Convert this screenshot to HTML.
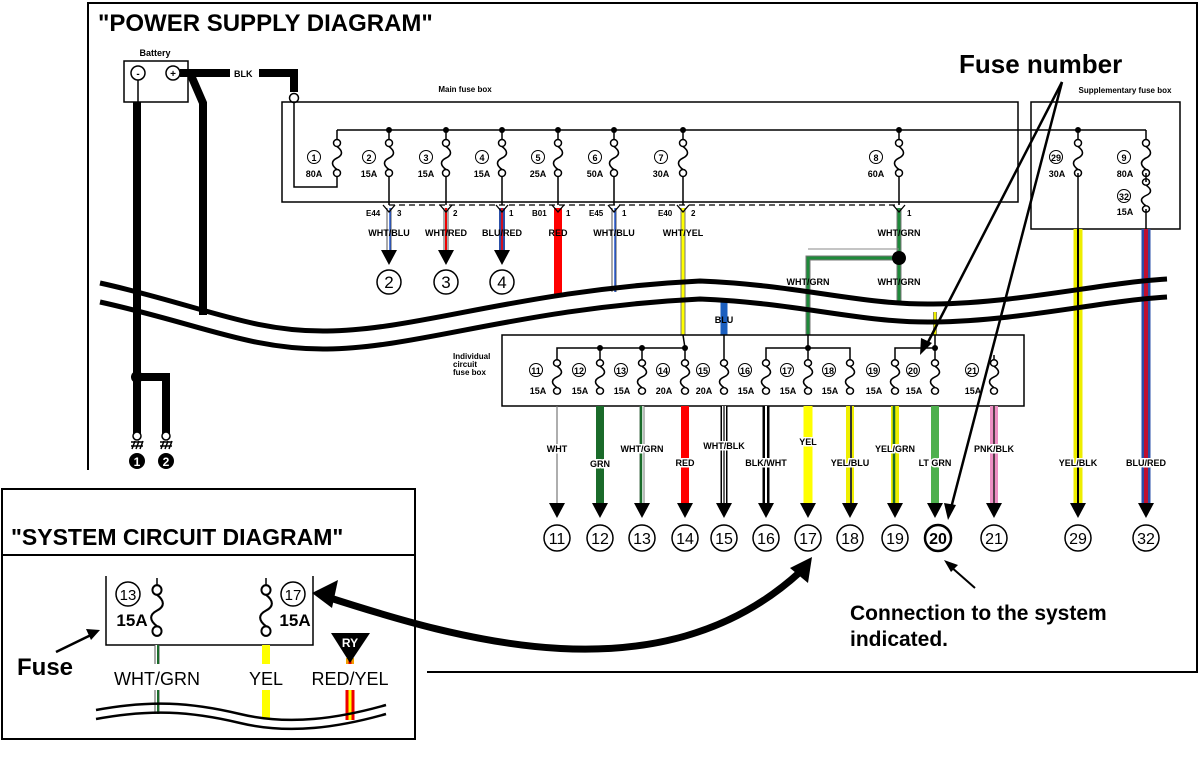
<!DOCTYPE html>
<html><head><meta charset="utf-8"><style>
html,body{margin:0;padding:0;background:#fff}
svg{display:block}
text{font-family:"Liberation Sans",Arial,sans-serif;font-weight:bold;fill:#000}
</style></head><body>
<svg width="1200" height="765" viewBox="0 0 1200 765" xmlns="http://www.w3.org/2000/svg">
<defs>
<g id="fz"><circle cx="0" cy="0" r="3.5" fill="#fff" stroke="#000" stroke-width="1.5"/><path d="M0,3.5 C6,8 6,12 0,15 C-6,18 -6,22 0,26.5" fill="none" stroke="#000" stroke-width="1.6"/><circle cx="0" cy="30" r="3.5" fill="#fff" stroke="#000" stroke-width="1.5"/></g>
</defs>
<!-- frame -->
<polyline points="88,470 88,3 1197,3 1197,672 427,672" fill="none" stroke="#000" stroke-width="2"/>
<text x="98" y="31" font-size="24">"POWER SUPPLY DIAGRAM"</text>

<!-- battery -->
<text x="155" y="56" font-size="9" text-anchor="middle">Battery</text>
<rect x="124" y="61" width="64" height="41" fill="#fff" stroke="#000" stroke-width="1.5"/>
<circle cx="138" cy="73" r="7" fill="#fff" stroke="#000" stroke-width="1.5"/><text x="138" y="77" font-size="10" text-anchor="middle">-</text>
<circle cx="173" cy="73" r="7" fill="#fff" stroke="#000" stroke-width="1.5"/><text x="173" y="77" font-size="10" text-anchor="middle">+</text>
<line x1="138" y1="80" x2="138" y2="102" stroke="#000" stroke-width="1.5"/>
<line x1="137" y1="102" x2="137" y2="438" stroke="#000" stroke-width="8"/>
<polyline points="137,377 166,377 166,438" fill="none" stroke="#000" stroke-width="8"/>
<circle cx="137" cy="377" r="6" fill="#000"/>
<g stroke="#000" stroke-width="1.5" fill="#fff">
<circle cx="137" cy="436" r="4"/><circle cx="166" cy="436" r="4"/>
</g>
<g stroke="#000" stroke-width="1.5">
<line x1="131" y1="442" x2="143" y2="442"/><line x1="131" y1="446" x2="143" y2="446"/>
<line x1="132" y1="449" x2="135" y2="441"/><line x1="136" y1="449" x2="139" y2="441"/><line x1="140" y1="449" x2="143" y2="441"/>
<line x1="160" y1="442" x2="172" y2="442"/><line x1="160" y1="446" x2="172" y2="446"/>
<line x1="161" y1="449" x2="164" y2="441"/><line x1="165" y1="449" x2="168" y2="441"/><line x1="169" y1="449" x2="172" y2="441"/>
</g>
<circle cx="137" cy="461" r="8" fill="#000"/><text x="137" y="466" font-size="12" text-anchor="middle" style="fill:#fff">1</text>
<circle cx="166" cy="461" r="8" fill="#000"/><text x="166" y="466" font-size="12" text-anchor="middle" style="fill:#fff">2</text>
<!-- + wire -->
<line x1="180" y1="73" x2="230" y2="73" stroke="#000" stroke-width="8"/>
<text x="234" y="77" font-size="9">BLK</text>
<polyline points="259,73 294,73 294,92" fill="none" stroke="#000" stroke-width="8"/>
<circle cx="294" cy="98" r="4.5" fill="#fff" stroke="#000" stroke-width="1.5"/>
<polyline points="190,73 203,103 203,315" fill="none" stroke="#000" stroke-width="8"/>

<!-- main fuse box -->
<text x="465" y="92" font-size="8" text-anchor="middle">Main fuse box</text>
<rect x="282" y="102" width="736" height="100" fill="none" stroke="#000" stroke-width="1.5"/>
<polyline points="294,102 294,187 337,187 337,173" fill="none" stroke="#000" stroke-width="1.5"/>
<line x1="337" y1="130" x2="1146" y2="130" stroke="#000" stroke-width="1.5"/>
<line x1="337" y1="130" x2="337" y2="143" stroke="#000" stroke-width="1.5"/>
<g stroke="#000" stroke-width="1.5">
<line x1="389" y1="130" x2="389" y2="143"/><line x1="446" y1="130" x2="446" y2="143"/><line x1="502" y1="130" x2="502" y2="143"/><line x1="558" y1="130" x2="558" y2="143"/><line x1="614" y1="130" x2="614" y2="143"/><line x1="683" y1="130" x2="683" y2="143"/><line x1="899" y1="130" x2="899" y2="143"/><line x1="1078" y1="130" x2="1078" y2="143"/><line x1="1146" y1="130" x2="1146" y2="143"/>
<line x1="389" y1="173" x2="389" y2="205"/><line x1="446" y1="173" x2="446" y2="205"/><line x1="502" y1="173" x2="502" y2="205"/><line x1="558" y1="173" x2="558" y2="205"/><line x1="614" y1="173" x2="614" y2="205"/><line x1="683" y1="173" x2="683" y2="205"/><line x1="899" y1="173" x2="899" y2="205"/>
</g>
<g fill="#000"><circle cx="389" cy="130" r="3"/><circle cx="446" cy="130" r="3"/><circle cx="502" cy="130" r="3"/><circle cx="558" cy="130" r="3"/><circle cx="614" cy="130" r="3"/><circle cx="683" cy="130" r="3"/><circle cx="899" cy="130" r="3"/><circle cx="1078" cy="130" r="3"/></g>
<use href="#fz" x="337" y="143"/><use href="#fz" x="389" y="143"/><use href="#fz" x="446" y="143"/><use href="#fz" x="502" y="143"/><use href="#fz" x="558" y="143"/><use href="#fz" x="614" y="143"/><use href="#fz" x="683" y="143"/><use href="#fz" x="899" y="143"/><use href="#fz" x="1078" y="143"/>
<g font-size="9" text-anchor="middle">
<circle cx="314" cy="157" r="6.5" fill="none" stroke="#000"/><text x="314" y="161">1</text><text x="314" y="177">80A</text>
<circle cx="369" cy="157" r="6.5" fill="none" stroke="#000"/><text x="369" y="161">2</text><text x="369" y="177">15A</text>
<circle cx="426" cy="157" r="6.5" fill="none" stroke="#000"/><text x="426" y="161">3</text><text x="426" y="177">15A</text>
<circle cx="482" cy="157" r="6.5" fill="none" stroke="#000"/><text x="482" y="161">4</text><text x="482" y="177">15A</text>
<circle cx="538" cy="157" r="6.5" fill="none" stroke="#000"/><text x="538" y="161">5</text><text x="538" y="177">25A</text>
<circle cx="595" cy="157" r="6.5" fill="none" stroke="#000"/><text x="595" y="161">6</text><text x="595" y="177">50A</text>
<circle cx="661" cy="157" r="6.5" fill="none" stroke="#000"/><text x="661" y="161">7</text><text x="661" y="177">30A</text>
<circle cx="876" cy="157" r="6.5" fill="none" stroke="#000"/><text x="876" y="161">8</text><text x="876" y="177">60A</text>
</g>
<line x1="389" y1="205" x2="899" y2="205" stroke="#000" stroke-width="1.2" stroke-dasharray="6,4"/>

<!-- supplementary box -->
<text x="1125" y="93" font-size="8" text-anchor="middle">Supplementary fuse box</text>
<rect x="1031" y="102" width="149" height="127" fill="none" stroke="#000" stroke-width="1.5"/>
<use href="#fz" x="1146" y="143"/>
<g transform="translate(1146,182) scale(1,0.9)"><use href="#fz" x="0" y="0"/></g>
<line x1="1146" y1="173" x2="1146" y2="182" stroke="#000" stroke-width="1.5"/>
<line x1="1078" y1="173" x2="1078" y2="229" stroke="#000" stroke-width="1.5"/>
<line x1="1146" y1="209" x2="1146" y2="229" stroke="#000" stroke-width="1.5"/>
<g font-size="9" text-anchor="middle">
<circle cx="1056" cy="157" r="6.5" fill="none" stroke="#000"/><text x="1056" y="161">29</text><text x="1057" y="177">30A</text>
<circle cx="1124" cy="157" r="6.5" fill="none" stroke="#000"/><text x="1124" y="161">9</text><text x="1125" y="177">80A</text>
<circle cx="1124" cy="196" r="6.5" fill="none" stroke="#000"/><text x="1124" y="200">32</text><text x="1125" y="215">15A</text>
</g>

<!-- main box output wires -->
<g>
<line x1="389" y1="208" x2="389" y2="250" stroke="#555" stroke-width="5"/><line x1="389" y1="208" x2="389" y2="250" stroke="#fff" stroke-width="3"/><line x1="390" y1="208" x2="390" y2="250" stroke="#2255cc" stroke-width="1.5"/>
<line x1="446" y1="208" x2="446" y2="250" stroke="#555" stroke-width="5"/><line x1="446" y1="208" x2="446" y2="250" stroke="#fff" stroke-width="3"/><line x1="446" y1="208" x2="446" y2="250" stroke="#e00" stroke-width="2"/>
<line x1="502" y1="208" x2="502" y2="250" stroke="#2a4fa8" stroke-width="6"/><line x1="502" y1="208" x2="502" y2="250" stroke="#d01020" stroke-width="2"/>
<line x1="558" y1="208" x2="558" y2="295" stroke="#f00" stroke-width="8"/>
<line x1="614" y1="208" x2="614" y2="292" stroke="#555" stroke-width="5"/><line x1="614" y1="208" x2="614" y2="292" stroke="#fff" stroke-width="3"/><line x1="615" y1="208" x2="615" y2="292" stroke="#2255cc" stroke-width="1.5"/>
<line x1="683" y1="208" x2="683" y2="348" stroke="#777" stroke-width="5"/><line x1="683" y1="208" x2="683" y2="348" stroke="#ff0" stroke-width="3"/>
<line x1="899" y1="208" x2="899" y2="305" stroke="#777" stroke-width="5"/><line x1="899" y1="208" x2="899" y2="305" stroke="#1e8a3a" stroke-width="3"/>
<polyline points="899,258 808,258 808,348" fill="none" stroke="#777" stroke-width="5"/><polyline points="899,258 808,258 808,348" fill="none" stroke="#1e8a3a" stroke-width="3"/>
<line x1="808" y1="249" x2="899" y2="249" stroke="#888" stroke-width="1"/>
<circle cx="899" cy="258" r="7" fill="#000"/>
<line x1="724" y1="300" x2="724" y2="348" stroke="#1b5fbf" stroke-width="7"/>
<line x1="935" y1="312" x2="935" y2="348" stroke="#777" stroke-width="4"/><line x1="935" y1="312" x2="935" y2="348" stroke="#ee0" stroke-width="2.5"/>
<line x1="1078" y1="229" x2="1078" y2="503" stroke="#ee0" stroke-width="9"/><line x1="1078" y1="229" x2="1078" y2="503" stroke="#000" stroke-width="2"/>
<line x1="1146" y1="229" x2="1146" y2="503" stroke="#2a4fa8" stroke-width="9"/><line x1="1146" y1="229" x2="1146" y2="503" stroke="#c01030" stroke-width="4"/>
</g>
<g stroke="#000" stroke-width="1.3" fill="none">
<polyline points="383,205 389,212 395,205"/><polyline points="440,205 446,212 452,205"/><polyline points="496,205 502,212 508,205"/><polyline points="552,205 558,212 564,205"/><polyline points="608,205 614,212 620,205"/><polyline points="677,205 683,212 689,205"/><polyline points="893,205 899,212 905,205"/>
</g>
<g font-size="8">
<text x="366" y="216">E44</text><text x="397" y="216">3</text>
<text x="453" y="216">2</text><text x="509" y="216">1</text>
<text x="532" y="216">B01</text><text x="566" y="216">1</text>
<text x="589" y="216">E45</text><text x="622" y="216">1</text>
<text x="658" y="216">E40</text><text x="691" y="216">2</text>
<text x="907" y="216">1</text>
</g>
<g font-size="9" text-anchor="middle">
<text x="389" y="236">WHT/BLU</text><text x="446" y="236">WHT/RED</text><text x="502" y="236">BLU/RED</text><text x="558" y="236">RED</text><text x="614" y="236">WHT/BLU</text><text x="683" y="236">WHT/YEL</text><text x="899" y="236">WHT/GRN</text>
<text x="808" y="285">WHT/GRN</text><text x="899" y="285">WHT/GRN</text>
<text x="724" y="323">BLU</text>
</g>
<g fill="#000"><polygon points="381,250 397,250 389,265"/><polygon points="438,250 454,250 446,265"/><polygon points="494,250 510,250 502,265"/></g>
<g font-size="17" text-anchor="middle">
<circle cx="389" cy="282" r="12" fill="#fff" stroke="#000" stroke-width="1.5"/><text x="389" y="288" style="font-weight:normal">2</text>
<circle cx="446" cy="282" r="12" fill="#fff" stroke="#000" stroke-width="1.5"/><text x="446" y="288" style="font-weight:normal">3</text>
<circle cx="502" cy="282" r="12" fill="#fff" stroke="#000" stroke-width="1.5"/><text x="502" y="288" style="font-weight:normal">4</text>
</g>

<!-- wave -->
<g fill="none" stroke="#000" stroke-width="5">
<path d="M100,283 C200,305 250,332 327,331 C420,330 520,290 700,281 C800,285 860,305 933,304 C1020,303 1100,283 1167,279"/>
<path d="M100,302 C200,324 250,350 327,349 C420,348 520,308 700,299 C800,303 860,323 933,322 C1020,321 1100,301 1167,297"/>
</g>

<!-- individual box -->
<g font-size="8"><text x="453" y="359">Individual</text><text x="453" y="367">circuit</text><text x="453" y="375">fuse box</text></g>
<rect x="502" y="335" width="522" height="71" fill="#fff" stroke="#000" stroke-width="1.5"/>
<g stroke="#000" stroke-width="1.5" fill="none">
<polyline points="557,363 557,348 685,348 685,363"/><line x1="600" y1="348" x2="600" y2="363"/><line x1="642" y1="348" x2="642" y2="363"/>
<line x1="683" y1="335" x2="685" y2="348"/>
<line x1="724" y1="335" x2="724" y2="363"/>
<polyline points="766,363 766,348 850,348 850,363"/><line x1="808" y1="335" x2="808" y2="363"/>
<polyline points="895,363 895,348 935,348 935,363"/><line x1="935" y1="335" x2="935" y2="348"/>
<line x1="994" y1="355" x2="994" y2="363"/>
</g>
<g fill="#000"><circle cx="600" cy="348" r="3"/><circle cx="642" cy="348" r="3"/><circle cx="685" cy="348" r="3"/><circle cx="808" cy="348" r="3"/><circle cx="935" cy="348" r="3"/></g>
<g transform="translate(0,363) scale(1,0.93)">
<use href="#fz" x="557"/><use href="#fz" x="600"/><use href="#fz" x="642"/><use href="#fz" x="685"/><use href="#fz" x="724"/><use href="#fz" x="766"/><use href="#fz" x="808"/><use href="#fz" x="850"/><use href="#fz" x="895"/><use href="#fz" x="935"/><use href="#fz" x="994"/>
</g>
<g font-size="9" text-anchor="middle">
<circle cx="536" cy="370" r="6.5" fill="none" stroke="#000"/><text x="536" y="374">11</text><text x="538" y="394">15A</text>
<circle cx="579" cy="370" r="6.5" fill="none" stroke="#000"/><text x="579" y="374">12</text><text x="580" y="394">15A</text>
<circle cx="621" cy="370" r="6.5" fill="none" stroke="#000"/><text x="621" y="374">13</text><text x="622" y="394">15A</text>
<circle cx="663" cy="370" r="6.5" fill="none" stroke="#000"/><text x="663" y="374">14</text><text x="664" y="394">20A</text>
<circle cx="703" cy="370" r="6.5" fill="none" stroke="#000"/><text x="703" y="374">15</text><text x="704" y="394">20A</text>
<circle cx="745" cy="370" r="6.5" fill="none" stroke="#000"/><text x="745" y="374">16</text><text x="746" y="394">15A</text>
<circle cx="787" cy="370" r="6.5" fill="none" stroke="#000"/><text x="787" y="374">17</text><text x="788" y="394">15A</text>
<circle cx="829" cy="370" r="6.5" fill="none" stroke="#000"/><text x="829" y="374">18</text><text x="830" y="394">15A</text>
<circle cx="873" cy="370" r="6.5" fill="none" stroke="#000"/><text x="873" y="374">19</text><text x="874" y="394">15A</text>
<circle cx="913" cy="370" r="6.5" fill="none" stroke="#000"/><text x="913" y="374">20</text><text x="914" y="394">15A</text>
<circle cx="972" cy="370" r="6.5" fill="none" stroke="#000"/><text x="972" y="374">21</text><text x="973" y="394">15A</text>
</g>
<!-- individual outputs -->
<g>
<line x1="557" y1="406" x2="557" y2="503" stroke="#777" stroke-width="1.2"/>
<line x1="600" y1="406" x2="600" y2="503" stroke="#1a6b2a" stroke-width="8"/>
<line x1="642" y1="406" x2="642" y2="503" stroke="#777" stroke-width="5"/><line x1="642" y1="406" x2="642" y2="503" stroke="#fff" stroke-width="3"/><line x1="641" y1="406" x2="641" y2="503" stroke="#1a6b2a" stroke-width="2.5"/>
<line x1="685" y1="406" x2="685" y2="503" stroke="#f00" stroke-width="8"/>
<line x1="724" y1="406" x2="724" y2="503" stroke="#000" stroke-width="7"/><line x1="724" y1="406" x2="724" y2="503" stroke="#fff" stroke-width="4"/><line x1="724" y1="406" x2="724" y2="503" stroke="#000" stroke-width="1.2"/>
<line x1="766" y1="406" x2="766" y2="503" stroke="#000" stroke-width="7"/><line x1="766" y1="406" x2="766" y2="503" stroke="#fff" stroke-width="2"/>
<line x1="808" y1="406" x2="808" y2="503" stroke="#ff0" stroke-width="9"/>
<line x1="850" y1="406" x2="850" y2="503" stroke="#ee0" stroke-width="8"/><line x1="851" y1="406" x2="851" y2="503" stroke="#333" stroke-width="2"/>
<line x1="895" y1="406" x2="895" y2="503" stroke="#ee0" stroke-width="8"/><line x1="894" y1="406" x2="894" y2="503" stroke="#1a6b2a" stroke-width="2.5"/>
<line x1="935" y1="406" x2="935" y2="503" stroke="#4db04d" stroke-width="8"/>
<line x1="994" y1="406" x2="994" y2="503" stroke="#ee8fc4" stroke-width="8"/><line x1="994" y1="406" x2="994" y2="503" stroke="#222" stroke-width="1.5"/>
</g>
<g font-size="9" text-anchor="middle" stroke="#fff" stroke-width="3" paint-order="stroke">
<text x="557" y="452">WHT</text><text x="600" y="467">GRN</text><text x="642" y="452">WHT/GRN</text><text x="685" y="466">RED</text><text x="724" y="449">WHT/BLK</text><text x="766" y="466">BLK/WHT</text><text x="808" y="445">YEL</text><text x="850" y="466">YEL/BLU</text><text x="895" y="452">YEL/GRN</text><text x="935" y="466">LT GRN</text><text x="994" y="452">PNK/BLK</text><text x="1078" y="466">YEL/BLK</text><text x="1146" y="466">BLU/RED</text>
</g>
<g fill="#000">
<polygon points="549,503 565,503 557,518"/><polygon points="592,503 608,503 600,518"/><polygon points="634,503 650,503 642,518"/><polygon points="677,503 693,503 685,518"/><polygon points="716,503 732,503 724,518"/><polygon points="758,503 774,503 766,518"/><polygon points="800,503 816,503 808,518"/><polygon points="842,503 858,503 850,518"/><polygon points="887,503 903,503 895,518"/><polygon points="927,503 943,503 935,518"/><polygon points="986,503 1002,503 994,518"/><polygon points="1070,503 1086,503 1078,518"/><polygon points="1138,503 1154,503 1146,518"/>
</g>
<g font-size="16" text-anchor="middle">
<circle cx="557" cy="538" r="13" fill="#fff" stroke="#000" stroke-width="1.5"/><text x="557" y="544" style="font-weight:normal">11</text>
<circle cx="600" cy="538" r="13" fill="#fff" stroke="#000" stroke-width="1.5"/><text x="600" y="544" style="font-weight:normal">12</text>
<circle cx="642" cy="538" r="13" fill="#fff" stroke="#000" stroke-width="1.5"/><text x="642" y="544" style="font-weight:normal">13</text>
<circle cx="685" cy="538" r="13" fill="#fff" stroke="#000" stroke-width="1.5"/><text x="685" y="544" style="font-weight:normal">14</text>
<circle cx="724" cy="538" r="13" fill="#fff" stroke="#000" stroke-width="1.5"/><text x="724" y="544" style="font-weight:normal">15</text>
<circle cx="766" cy="538" r="13" fill="#fff" stroke="#000" stroke-width="1.5"/><text x="766" y="544" style="font-weight:normal">16</text>
<circle cx="808" cy="538" r="13" fill="#fff" stroke="#000" stroke-width="1.5"/><text x="808" y="544" style="font-weight:normal">17</text>
<circle cx="850" cy="538" r="13" fill="#fff" stroke="#000" stroke-width="1.5"/><text x="850" y="544" style="font-weight:normal">18</text>
<circle cx="895" cy="538" r="13" fill="#fff" stroke="#000" stroke-width="1.5"/><text x="895" y="544" style="font-weight:normal">19</text>
<circle cx="938" cy="538" r="13" fill="#fff" stroke="#000" stroke-width="2.5"/><text x="938" y="544">20</text>
<circle cx="994" cy="538" r="13" fill="#fff" stroke="#000" stroke-width="1.5"/><text x="994" y="544" style="font-weight:normal">21</text>
<circle cx="1078" cy="538" r="13" fill="#fff" stroke="#000" stroke-width="1.5"/><text x="1078" y="544" style="font-weight:normal">29</text>
<circle cx="1146" cy="538" r="13" fill="#fff" stroke="#000" stroke-width="1.5"/><text x="1146" y="544" style="font-weight:normal">32</text>
</g>

<!-- Fuse number callout -->
<text x="959" y="73" font-size="26">Fuse number</text>
<g stroke="#000" stroke-width="2.5" fill="none">
<line x1="1062" y1="82" x2="925" y2="348"/>
<line x1="1062" y1="82" x2="950" y2="512"/>
</g>
<polygon points="920,355 921,338 932,343" fill="#000"/>
<polygon points="948,520 944,503 956,505" fill="#000"/>
<text x="850" y="620" font-size="21">Connection to the system</text>
<text x="850" y="646" font-size="21">indicated.</text>
<line x1="975" y1="588" x2="950" y2="566" stroke="#000" stroke-width="2"/>
<polygon points="944,560 958,565 951,572" fill="#000"/>

<!-- system circuit box -->
<rect x="2" y="489" width="413" height="250" fill="#fff" stroke="#000" stroke-width="2"/>
<line x1="2" y1="555" x2="415" y2="555" stroke="#000" stroke-width="2"/>
<text x="11" y="545" font-size="23">"SYSTEM CIRCUIT DIAGRAM"</text>
<polyline points="106,576 106,645 313,645 313,576" fill="none" stroke="#000" stroke-width="1.5"/>
<g transform="translate(157,590) scale(1.3,1.37)"><use href="#fz"/></g>
<g transform="translate(266,590) scale(1.3,1.37)"><use href="#fz"/></g>
<line x1="157" y1="578" x2="157" y2="586" stroke="#000" stroke-width="1.5"/>
<line x1="266" y1="578" x2="266" y2="586" stroke="#000" stroke-width="1.5"/>
<circle cx="128" cy="594" r="12" fill="none" stroke="#000" stroke-width="1.5"/><text x="128" y="600" font-size="15" text-anchor="middle" style="font-weight:normal">13</text>
<circle cx="293" cy="594" r="12" fill="none" stroke="#000" stroke-width="1.5"/><text x="293" y="600" font-size="15" text-anchor="middle" style="font-weight:normal">17</text>
<text x="132" y="626" font-size="17" text-anchor="middle">15A</text>
<text x="295" y="626" font-size="17" text-anchor="middle">15A</text>
<!-- system wires -->
<g>
<line x1="157" y1="645" x2="157" y2="664" stroke="#555" stroke-width="5"/><line x1="157" y1="645" x2="157" y2="664" stroke="#fff" stroke-width="3"/><line x1="158" y1="645" x2="158" y2="664" stroke="#1a6b2a" stroke-width="2"/>
<line x1="157" y1="690" x2="157" y2="714" stroke="#555" stroke-width="5"/><line x1="157" y1="690" x2="157" y2="714" stroke="#fff" stroke-width="3"/><line x1="158" y1="690" x2="158" y2="714" stroke="#1a6b2a" stroke-width="2"/>
<line x1="266" y1="645" x2="266" y2="664" stroke="#ff0" stroke-width="8"/><line x1="266" y1="690" x2="266" y2="718" stroke="#ff0" stroke-width="8"/>
<line x1="350" y1="658" x2="350" y2="664" stroke="#f0a000" stroke-width="8"/><line x1="350" y1="658" x2="350" y2="664" stroke="#e00" stroke-width="3"/>
<line x1="350" y1="690" x2="350" y2="720" stroke="#e00" stroke-width="9"/><line x1="350" y1="690" x2="350" y2="720" stroke="#ff0" stroke-width="3"/>
</g>
<polygon points="331,633 370,633 350,663" fill="#000"/>
<text x="350" y="647" font-size="12" text-anchor="middle" style="fill:#fff">RY</text>
<g font-size="18" text-anchor="middle">
<text x="157" y="685" style="font-weight:normal">WHT/GRN</text><text x="266" y="685" style="font-weight:normal">YEL</text><text x="350" y="685" style="font-weight:normal">RED/YEL</text>
</g>
<g fill="none" stroke="#000" stroke-width="2.5">
<path d="M96,710 C150,700 190,702 240,714 C290,726 340,718 386,705"/>
<path d="M96,719 C150,709 190,711 240,723 C290,735 340,727 386,714"/>
</g>
<text x="17" y="675" font-size="24">Fuse</text>
<line x1="56" y1="652" x2="93" y2="634" stroke="#000" stroke-width="2.5"/>
<polygon points="100,630 86,629 91,640" fill="#000"/>

<!-- big curved arrow (on top of system box) -->
<path d="M324,596 C460,640 660,700 800,572" fill="none" stroke="#000" stroke-width="7"/>
<polygon points="312,593 338,580 332,608" fill="#000"/>
<polygon points="812,557 808,583 790,568" fill="#000"/>
</svg>
</body></html>
